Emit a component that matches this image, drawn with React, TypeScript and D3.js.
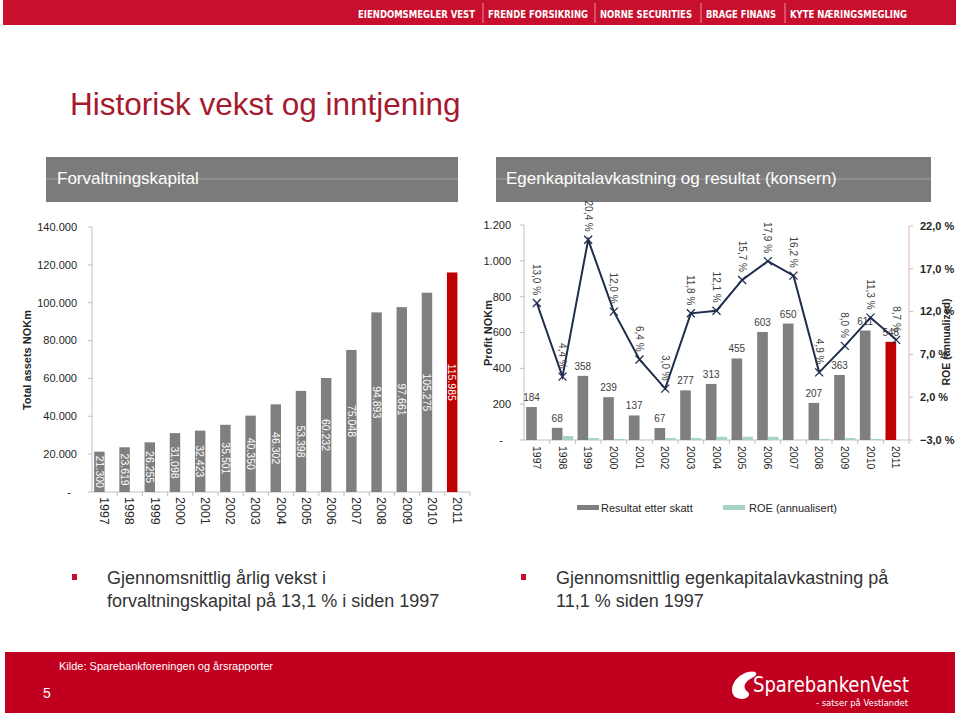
import React from 'react';
import * as d3 from 'd3';

const years = ['1997','1998','1999','2000','2001','2002','2003','2004','2005','2006','2007','2008','2009','2010','2011'];
const totalAssets = [21300, 23619, 26255, 31098, 32423, 35501, 40350, 46302, 53398, 60232, 75048, 94893, 97661, 105275, 115985];
const profit = [184, 68, 358, 239, 137, 67, 277, 313, 455, 603, 650, 207, 363, 611, 548];
const roe = [13.0, 4.4, 20.4, 12.0, 6.4, 3.0, 11.8, 12.1, 15.7, 17.9, 16.2, 4.9, 8.0, 11.3, 8.7];
const roeBars = [0, 22, 11, 6, 0, 11, 11, 18, 18, 18, 0, 6, 11, 6, 0];
const assetTicks = [0, 20000, 40000, 60000, 80000, 100000, 120000, 140000];
const profitTicks = [0, 200, 400, 600, 800, 1000, 1200];
const roeTicks = [-3, 2, 7, 12, 17, 22];
const bannerItems = ['EIENDOMSMEGLER VEST', 'FRENDE FORSIKRING', 'NORNE SECURITIES', 'BRAGE FINANS', 'KYTE NÆRINGSMEGLING'];
const bannerX = [358, 488, 600, 706, 790];
const bannerW = [117, 100, 92, 70, 117];
const series = ['Resultat etter skatt', 'ROE (annualisert)'];

const locale = d3.formatLocale({ decimal: ',', thousands: '.', grouping: [3], currency: ['', ''] });
const fmtInt = (v: number) => (v === 0 ? '-' : locale.format(',.0f')(v));
const fmtPct = (v: number) => locale.format('.1f')(v) + ' %';

const FONT = 'Liberation Sans, Arial, sans-serif';
const NARROW = 'Liberation Sans Narrow, DejaVu Sans Condensed, sans-serif';
const GREY = '#7f7f7f';
const RED = '#c00000';
const GREEN = '#a6d4c4';
const NAVY = '#1f2d4d';
const AXIS = '#bfbfbf';
const TXT = '#262626';

export default function App() {
  // Left chart
  const xL = d3.scaleBand<string>().domain(years).range([92, 470]).paddingInner(0.17).paddingOuter(0.085);
  const xL1 = d3.scaleBand<number>().domain([0, 1]).range([0, xL.bandwidth()]);
  const yL = d3.scaleLinear().domain([0, 140000]).range([492, 227]);
  const stepL = xL.step();
  const bandStartL = (i: number) => 92 + i * stepL;

  // Right chart
  const xR = d3.scaleBand<string>().domain(years).range([524, 909]).paddingInner(0.17).paddingOuter(0.085);
  const xR1 = d3.scaleBand<number>().domain([0, 1]).range([0, xR.bandwidth()]);
  const yP = d3.scaleLinear().domain([0, 1200]).range([440, 225]);
  const yR = d3.scaleLinear().domain([-3, 22]).range([440, 226]);
  const stepR = xR.step();
  const bandStartR = (i: number) => 524 + i * stepR;
  const centerR = (i: number) => bandStartR(i) + stepR / 2;

  const roeLine = d3.line<number>().x((_, i) => centerR(i)).y((d) => yR(d));

  return (
    <svg width={960} height={716} style={{ position: 'absolute', left: 0, top: 0, background: '#fff' }} fontFamily={FONT}>
      <rect x={0} y={0} width={960} height={716} fill="#fff" />
      {/* Top banner */}
      <rect x={3} y={0} width={953} height={25} fill="#c8102e" />
      {bannerItems.map((t, i) => (
        <g key={t}>
          <text x={bannerX[i]} y={18} fill="#fff" fontSize={11} fontWeight="bold" fontFamily={NARROW}
            textLength={bannerW[i]} lengthAdjust="spacingAndGlyphs">{t}</text>
          {i > 0 && <line x1={bannerX[i] - 5} x2={bannerX[i] - 5} y1={3} y2={23} stroke="#f4b0b8" strokeWidth={0.8} />}
        </g>
      ))}

      {/* Title */}
      <text x={70} y={115} fill="#a6192e" fontSize={31.5}>Historisk vekst og inntjening</text>

      {/* Header bars */}
      <rect x={46} y={157} width={412} height={45} fill="#7b7b7b" />
      <line x1={46} x2={458} y1={179} y2={179} stroke="#fff" strokeOpacity={0.3} />
      <text x={57} y={184} fill="#fff" fontSize={17}>Forvaltningskapital</text>
      <rect x={496} y={157} width={435} height={45} fill="#7b7b7b" />
      <line x1={496} x2={931} y1={179} y2={179} stroke="#fff" strokeOpacity={0.3} />
      <text x={506} y={184} fill="#fff" fontSize={17}>Egenkapitalavkastning og resultat (konsern)</text>

      {/* LEFT CHART */}
      <text transform="translate(31,360) rotate(-90)" textAnchor="middle" fontSize={11} fontWeight="bold" fill={TXT}>Total assets NOKm</text>
      <line x1={92} x2={92} y1={yL(140000)} y2={yL(0)} stroke={AXIS} />
      {assetTicks.map((t) => (
        <g key={t}>
          <line x1={88} x2={92} y1={yL(t)} y2={yL(t)} stroke={AXIS} />
          <text x={t === 0 ? 71 : 77} y={yL(t)} dy="0.35em" textAnchor="end" fontSize={11} fill={TXT}>{fmtInt(t)}</text>
        </g>
      ))}
      <line x1={92} x2={470} y1={yL(0)} y2={yL(0)} stroke={AXIS} />
      {years.map((y, i) => (
        <line key={'tl' + y} x1={bandStartL(i + 1)} x2={bandStartL(i + 1)} y1={yL(0)} y2={yL(0) + 4} stroke={AXIS} />
      ))}
      {totalAssets.map((v, i) => {
        const x = (xL(years[i]) as number) + (xL1(0) as number);
        const w = xL1.bandwidth();
        const top = yL(v);
        const cx = x + w / 2;
        const cy = (top + yL(0)) / 2;
        return (
          <g key={'la' + i}>
            <rect x={x} y={top} width={w} height={yL(0) - top} fill={i === years.length - 1 ? RED : GREY} />
            <text transform={`translate(${cx},${cy}) rotate(90)`} dy="0.35em" textAnchor="middle" fontSize={10.5} fill="#fff">{fmtInt(v)}</text>
          </g>
        );
      })}
      {years.map((y, i) => (
        <text key={'ly' + y} transform={`translate(${bandStartL(i) + stepL / 2},${yL(0) + 5}) rotate(90)`} dy="0.35em" textAnchor="start" fontSize={12.5} fill={TXT}>{y}</text>
      ))}

      {/* RIGHT CHART */}
      <text transform="translate(492,333) rotate(-90)" textAnchor="middle" fontSize={11} fontWeight="bold" fill={TXT}>Profit NOKm</text>
      <line x1={524} x2={524} y1={yP(1200)} y2={yP(0)} stroke={AXIS} />
      {profitTicks.map((t) => (
        <g key={'pt' + t}>
          <line x1={520} x2={524} y1={yP(t)} y2={yP(t)} stroke={AXIS} />
          <text x={t === 0 ? 503 : 511} y={yP(t)} dy="0.35em" textAnchor="end" fontSize={11} fill={TXT}>{fmtInt(t)}</text>
        </g>
      ))}
      <line x1={909} x2={909} y1={yR(22)} y2={yR(-3)} stroke="#d9b8b8" />
      {roeTicks.map((t) => (
        <g key={'rt' + t}>
          <line x1={909} x2={913} y1={yR(t)} y2={yR(t)} stroke="#d9b8b8" />
          <text x={920} y={yR(t)} dy="0.35em" textAnchor="start" fontSize={11} fontWeight="bold" fill={TXT}>{fmtPct(t)}</text>
        </g>
      ))}
      <text transform="translate(950,342) rotate(-90)" textAnchor="middle" fontSize={10.5} fontWeight="bold" fill={TXT}>ROE (annualized)</text>
      <line x1={524} x2={909} y1={yP(0)} y2={yP(0)} stroke={AXIS} />
      {years.map((y, i) => (
        <line key={'tr' + y} x1={bandStartR(i + 1)} x2={bandStartR(i + 1)} y1={yP(0)} y2={yP(0) + 4} stroke={AXIS} />
      ))}
      {profit.map((v, i) => {
        const x = (xR(years[i]) as number) + (xR1(0) as number);
        const w = xR1.bandwidth();
        const top = yP(v);
        return (
          <g key={'rp' + i}>
            <rect x={x} y={top} width={w} height={yP(0) - top} fill={i === years.length - 1 ? RED : GREY} />
            <text x={x + w / 2} y={top - 6} textAnchor="middle" fontSize={10} fill="#404040">{v}</text>
          </g>
        );
      })}
      {roeBars.map((v, i) => {
        const x = (xR(years[i]) as number) + (xR1(1) as number);
        const w = xR1.bandwidth();
        const top = yP(v);
        return v > 0 ? <rect key={'rg' + i} x={x} y={top} width={w} height={yP(0) - top} fill={GREEN} /> : null;
      })}
      <path d={roeLine(roe) || ''} fill="none" stroke={NAVY} strokeWidth={2} />
      {roe.map((v, i) => {
        const cx = centerR(i);
        const cy = yR(v);
        return (
          <g key={'rm' + i}>
            <path d={`M${cx - 4},${cy - 4}L${cx + 4},${cy + 4}M${cx - 4},${cy + 4}L${cx + 4},${cy - 4}`} stroke={NAVY} strokeWidth={1.3} />
            <text transform={`translate(${cx},${cy - 8}) rotate(90)`} dy="0.35em" textAnchor="end" fontSize={10} fill="#404040">{fmtPct(v)}</text>
          </g>
        );
      })}
      {years.map((y, i) => (
        <text key={'ry' + y} transform={`translate(${centerR(i)},${yP(0) + 6}) rotate(90)`} dy="0.35em" textAnchor="start" fontSize={10.5} fill={TXT}>{y}</text>
      ))}

      {/* Legend */}
      <rect x={577} y={505} width={22} height={5} fill={GREY} />
      <text x={601} y={508} dy="0.35em" fontSize={11} fill={TXT}>{series[0]}</text>
      <rect x={723} y={505} width={22} height={5} fill={GREEN} />
      <text x={749} y={508} dy="0.35em" fontSize={11} fill={TXT}>{series[1]}</text>

      {/* Bullets */}
      <rect x={72} y={574} width={5} height={6} fill="#c8102e" />
      <text x={107} y={584} fontSize={18} fill="#333">Gjennomsnittlig årlig vekst i</text>
      <text x={107} y={607} fontSize={18} fill="#333">forvaltningskapital på 13,1 % i siden 1997</text>
      <rect x={521} y={574} width={5} height={6} fill="#c8102e" />
      <text x={556} y={584} fontSize={18} fill="#333">Gjennomsnittlig egenkapitalavkastning på</text>
      <text x={556} y={607} fontSize={18} fill="#333">11,1 % siden 1997</text>

      {/* Footer */}
      <rect x={5} y={652} width={950} height={61} fill="#c1001f" />
      <text x={59} y={670} fontSize={11} fill="#fff">Kilde: Sparebankforeningen og årsrapporter</text>
      <text x={43} y={698} fontSize={14} fill="#fff">5</text>
      <path d="M735,697 C728,690 734,676 748,672 C756,670 760,674 752,678 C744,682 742,688 748,692 C752,696 744,702 735,697 Z" fill="#fff" />
      <text x={753} y={692} fontSize={22} fill="#fff" fontFamily={NARROW} textLength={156} lengthAdjust="spacingAndGlyphs">SparebankenVest</text>
      <text x={816} y={706} fontSize={9.5} fill="#fff" fontFamily={NARROW} textLength={92} lengthAdjust="spacingAndGlyphs">- satser på Vestlandet</text>
    </svg>
  );
}
